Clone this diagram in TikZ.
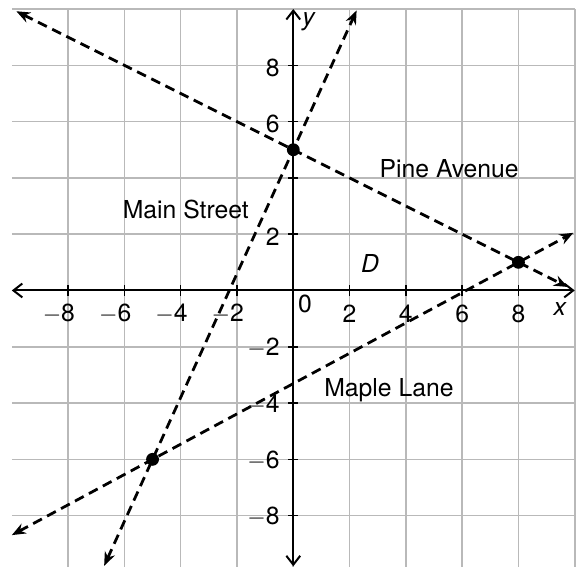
\documentclass[tikz,border=0pt]{standalone}
\usepackage{fontspec}
\setmainfont{TeX Gyre Heros}
\usetikzlibrary{arrows.meta}
\usetikzlibrary{positioning}
\usepackage{amsmath}
\definecolor{gridgray}{RGB}{185,185,185}

\begin{document}
\begin{tikzpicture}[x=0.5cm, y=0.5cm,
  font=\fontsize{12.5}{15}\selectfont,
  axis/.style={line width=1pt, {Straight Barb[length=4.5pt,width=7pt]}-{Straight Barb[length=4.5pt,width=7pt]}},
  road/.style={line width=1.4pt, dash pattern=on 5pt off 3pt, {Stealth[length=7pt,width=5.5pt]}-{Stealth[length=7pt,width=5.5pt]}},
  town/.style={fill=black, circle, inner sep=0pt, minimum size=6.5pt},
  numlabel/.style={inner sep=0pt}]

%---------------------------------------
% Road functions
%---------------------------------------
\pgfmathdeclarefunction{Pine}{1}{\pgfmathparse{5 - 0.5*#1}}        % Pine Avenue
\pgfmathdeclarefunction{MainSt}{1}{\pgfmathparse{5 + 2.2*#1}}      % Main Street
\pgfmathdeclarefunction{Maple}{1}{\pgfmathparse{1 + 7/13*(#1-8)}}  % Maple Lane

\def\Xmin{-10}
\def\Xmax{10}
\def\Ymin{-9.82}
\def\Ymax{10}

\useasboundingbox (-10.42,\Ymin) rectangle (10.08,10.32);

%====================================================
% Grid and axes
%====================================================
\draw[gridgray, line width=0.8pt] (\Xmin,\Ymin) grid (\Xmax,\Ymax);

\draw[axis] (\Xmin,0) -- (\Xmax,0);
\draw[axis] (0,-9.8) -- (0,\Ymax);

% Ticks
\foreach \i in {-8,-6,-4,-2,2,4,6,8} {
  \draw[line width=0.8pt] (\i,-0.18) -- (\i,0.18);
  \draw[line width=0.8pt] (-0.18,\i) -- (0.18,\i);
}

% Tick labels
\foreach \i in {-8,-6,-4,-2} {
  \node[numlabel] (xl\i) at (\i,-0.82) {\llap{$-$}\the\numexpr-\i\relax};
  \node[numlabel, anchor=east] (yl\i) at (-0.47,\i-0.05) {$-$\the\numexpr-\i\relax};
}
\foreach \i in {2,4,6,8} {
  \node[numlabel] (xl\i) at (\i,-0.82) {\i};
}
\foreach \i in {2,6,8} {
  \node[numlabel, anchor=east] (yl\i) at (-0.47,\i-0.08) {\i};
}
\node[numlabel] (orig) at (0.42,-0.48) {0};
\node[numlabel] (xlab) at (9.48,-0.66) {\textit{x}};
\node[numlabel] (ylab) at (0.56,9.55) {\textit{y}};

%====================================================
% Roads
%====================================================
\coordinate (pineW) at (-9.84,{Pine(-9.84)});
\coordinate (pineE) at (9.75,{Pine(9.75)});
\coordinate (mainN) at (2.25,{MainSt(2.25)});
\coordinate (mainS) at (-6.72,{MainSt(-6.72)});
\coordinate (mapleW) at (-10,{Maple(-10)});
\coordinate (mapleE) at (9.95,{Maple(9.95)});

\draw[road] (pineW) -- (pineE);
\draw[road] (mainS) -- (mainN);
\draw[road] (mapleW) -- (mapleE);

% Intersections
\node[town] (A) at (0,5) {};
\node[town] (B) at (8,1) {};
\node[town] (C) at (-5,-6) {};

% Labels
\node (mainlab) at (-3.82,2.88) {Main Street};
\node (pinelab) at (5.54,4.31) {Pine Avenue};
\node (maplelab) at (3.40,-3.56) {Maple Lane};
\node (region) at (2.73,0.96) {\textit{D}};

\end{tikzpicture}
\end{document}
